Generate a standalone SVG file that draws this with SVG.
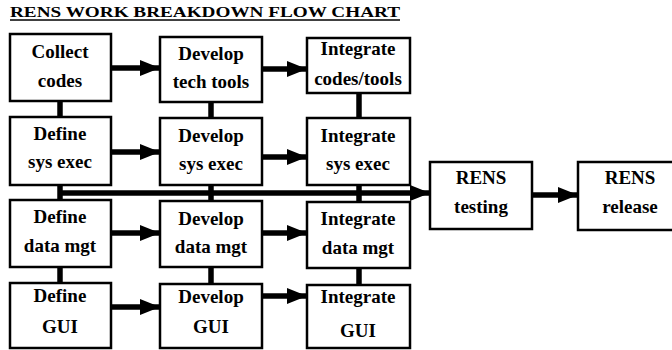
<svg xmlns="http://www.w3.org/2000/svg" width="672" height="350" viewBox="0 0 672 350">
<style>
.box{fill:#fff;stroke:#000;stroke-width:2.5}
.t{font-family:"Liberation Serif","Times New Roman",serif;font-weight:bold;font-size:19px;text-anchor:middle;fill:#000}
.ln{stroke:#000;stroke-width:5.5;fill:none}
.title{font-family:"Liberation Serif","Times New Roman",serif;font-weight:bold;font-size:15px;fill:#000}
</style>
<defs>
<marker id="ah" markerUnits="userSpaceOnUse" markerWidth="22" markerHeight="16" refX="20" refY="8" orient="auto">
<path d="M0,0 L20,8 L0,16 Z" fill="#000"/>
</marker>
</defs>
<rect width="672" height="350" fill="#fff"/>
<text class="title" x="10" y="17" textLength="390" lengthAdjust="spacingAndGlyphs">RENS WORK BREAKDOWN FLOW CHART</text>
<line x1="10" y1="20" x2="400" y2="20" stroke="#000" stroke-width="1.5"/>
<g id="connectors">
<line class="ln" x1="60" y1="100" x2="60" y2="118"/>
<line class="ln" x1="60" y1="184" x2="60" y2="201"/>
<line class="ln" x1="60" y1="266" x2="60" y2="284"/>
<line class="ln" x1="211" y1="101" x2="211" y2="119"/>
<line class="ln" x1="211" y1="184" x2="211" y2="202"/>
<line class="ln" x1="211" y1="266" x2="211" y2="285"/>
<line class="ln" x1="359" y1="92" x2="359" y2="119"/>
<line class="ln" x1="359" y1="184" x2="359" y2="203"/>
<line class="ln" x1="359" y1="267" x2="359" y2="286"/>
<line class="ln" x1="111" y1="68" x2="160" y2="68" marker-end="url(#ah)"/>
<line class="ln" x1="111" y1="152" x2="160" y2="152" marker-end="url(#ah)"/>
<line class="ln" x1="111" y1="233" x2="160" y2="233" marker-end="url(#ah)"/>
<line class="ln" x1="111" y1="307" x2="160" y2="307" marker-end="url(#ah)"/>
<line class="ln" x1="262" y1="69" x2="307" y2="69" marker-end="url(#ah)"/>
<line class="ln" x1="262" y1="157" x2="307" y2="157" marker-end="url(#ah)"/>
<line class="ln" x1="262" y1="233" x2="307" y2="233" marker-end="url(#ah)"/>
<line class="ln" x1="262" y1="296" x2="307" y2="296" marker-end="url(#ah)"/>
<line class="ln" x1="58" y1="193" x2="430" y2="193" marker-end="url(#ah)"/>
<line class="ln" x1="532" y1="195" x2="578" y2="195" marker-end="url(#ah)"/>
</g>
<g id="collect-codes"><rect class="box" x="10" y="34" width="101" height="67"/><text class="t" x="60" y="58">Collect</text><text class="t" x="60" y="87">codes</text></g>
<g id="define-sys-exec"><rect class="box" x="10" y="117" width="101" height="68"/><text class="t" x="60" y="140">Define</text><text class="t" x="60" y="168">sys exec</text></g>
<g id="define-data-mgt"><rect class="box" x="10" y="200" width="101" height="67"/><text class="t" x="60" y="223">Define</text><text class="t" x="60" y="252">data mgt</text></g>
<g id="define-gui"><rect class="box" x="10" y="283" width="101" height="65"/><text class="t" x="60" y="302">Define</text><text class="t" x="60" y="333">GUI</text></g>
<g id="develop-tech-tools"><rect class="box" x="160" y="37" width="102" height="65"/><text class="t" x="211" y="60">Develop</text><text class="t" x="211" y="88">tech tools</text></g>
<g id="develop-sys-exec"><rect class="box" x="160" y="118" width="102" height="67"/><text class="t" x="211" y="142">Develop</text><text class="t" x="211" y="170">sys exec</text></g>
<g id="develop-data-mgt"><rect class="box" x="160" y="201" width="102" height="66"/><text class="t" x="211" y="225">Develop</text><text class="t" x="211" y="253">data mgt</text></g>
<g id="develop-gui"><rect class="box" x="160" y="284" width="102" height="64"/><text class="t" x="211" y="303">Develop</text><text class="t" x="211" y="333">GUI</text></g>
<g id="integrate-codes-tools"><rect class="box" x="307" y="38" width="103" height="55"/><text class="t" x="358" y="55">Integrate</text><text class="t" x="358" y="85">codes/tools</text></g>
<g id="integrate-sys-exec"><rect class="box" x="307" y="118" width="103" height="67"/><text class="t" x="358" y="142">Integrate</text><text class="t" x="358" y="170">sys exec</text></g>
<g id="integrate-data-mgt"><rect class="box" x="307" y="202" width="103" height="66"/><text class="t" x="358" y="225">Integrate</text><text class="t" x="358" y="254">data mgt</text></g>
<g id="integrate-gui"><rect class="box" x="307" y="285" width="103" height="63"/><text class="t" x="358" y="303">Integrate</text><text class="t" x="358" y="337">GUI</text></g>
<g id="rens-testing"><rect class="box" x="430" y="162" width="102" height="67"/><text class="t" x="481" y="184">RENS</text><text class="t" x="481" y="213">testing</text></g>
<g id="rens-release"><rect class="box" x="578" y="162" width="104" height="68"/><text class="t" x="630" y="184">RENS</text><text class="t" x="630" y="213">release</text></g>
</svg>
